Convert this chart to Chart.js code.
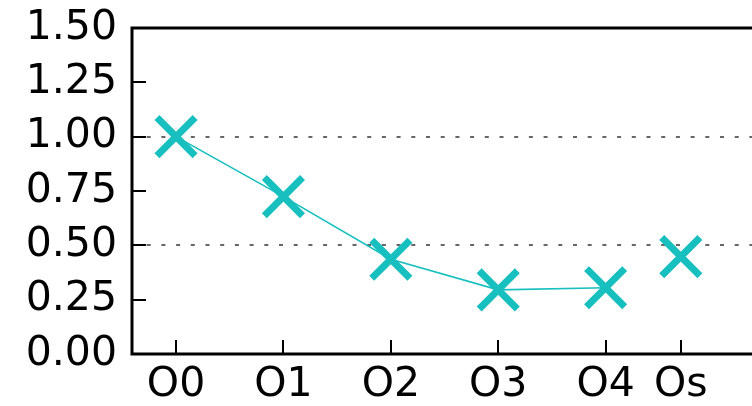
<!DOCTYPE html>
<html>
<head>
<meta charset="utf-8">
<script src="https://cdn.jsdelivr.net/npm/chart.js@4/dist/chart.umd.min.js"></script>
<style>
html,body{margin:0;padding:0;overflow:hidden;background:#fff;width:752px;height:406px;}
canvas{display:block;}
</style>
</head>
<body>
<canvas id="c" width="820" height="406"></canvas>
<script>
const categories = ['O0', 'O1', 'O2', 'O3', 'O4', 'Os'];
const positions = [0, 1, 2, 3, 4, 4.7];
const values = [1.0, 0.724, 0.436, 0.295, 0.305, 0.448];
const connectedCount = 5;
const yTicks = [0, 0.25, 0.5, 0.75, 1.0, 1.25, 1.5];

const COLOR = 'rgb(23,191,191)';
const FONT = 'DejaVu Sans';

const lineData = positions.slice(0, connectedCount).map((x, i) => ({x, y: values[i]}));
const soloData = positions.slice(connectedCount).map((x, i) => ({x, y: values[connectedCount + i]}));

const framePlugin = {
  id: 'frame',
  afterDatasetsDraw(chart) {
    const {ctx, chartArea: a, scales} = chart;
    ctx.save();
    ctx.strokeStyle = '#000';
    ctx.lineCap = 'butt';
    ctx.lineWidth = 2;
    const tl = 14;
    ctx.beginPath();
    yTicks.forEach(v => {
      const y = Math.round(scales.y.getPixelForValue(v));
      ctx.moveTo(a.left, y); ctx.lineTo(a.left + tl, y);
    });
    positions.forEach(v => {
      const x = Math.round(scales.x.getPixelForValue(v));
      ctx.moveTo(x, a.bottom); ctx.lineTo(x, a.bottom - tl);
    });
    ctx.stroke();
    ctx.lineWidth = 3;
    ctx.beginPath();
    ctx.moveTo(a.left, a.top); ctx.lineTo(a.right, a.top);
    ctx.lineTo(a.right, a.bottom); ctx.lineTo(a.left, a.bottom);
    ctx.closePath();
    ctx.stroke();
    ctx.restore();
  }
};

new Chart(document.getElementById('c'), {
  type: 'scatter',
  data: {
    datasets: [
      {
        data: lineData,
        showLine: true,
        borderColor: COLOR,
        borderWidth: 1.6,
        pointStyle: 'crossRot',
        pointRadius: 27,
        pointBorderWidth: 7,
        pointBorderColor: COLOR,
        pointBackgroundColor: COLOR,
        tension: 0
      },
      {
        data: soloData,
        showLine: false,
        borderColor: COLOR,
        pointStyle: 'crossRot',
        pointRadius: 27,
        pointBorderWidth: 7,
        pointBorderColor: COLOR,
        pointBackgroundColor: COLOR
      }
    ]
  },
  options: {
    responsive: false,
    animation: false,
    devicePixelRatio: 1,
    layout: {autoPadding: false, padding: {left: 0, top: 28, right: 10, bottom: 0}},
    plugins: {legend: {display: false}, tooltip: {enabled: false}},
    scales: {
      x: {
        type: 'linear',
        min: -0.41,
        max: 5.903,
        afterFit(s) { s.height = 52; s.paddingLeft = 0; s.paddingRight = 0; },
        afterBuildTicks(s) { s.ticks = positions.map(v => ({value: v})); },
        grid: {display: false, drawTicks: false},
        border: {display: false},
        ticks: {
          padding: 7,
          autoSkip: false,
          maxRotation: 0,
          color: '#000',
          font: {family: FONT, size: 41},
          callback(v) {
            const i = positions.indexOf(v);
            return i >= 0 ? categories[i] : '';
          }
        }
      },
      y: {
        min: 0,
        max: 1.5,
        afterFit(s) { s.width = 132; s.paddingTop = 0; s.paddingBottom = 0; },
        afterBuildTicks(s) { s.ticks = yTicks.map(v => ({value: v})); },
        grid: {
          drawTicks: false,
          lineWidth: 2,
          color(ctx) {
            const v = ctx.tick ? ctx.tick.value : 0;
            return (Math.abs(v - 0.5) < 1e-6 || Math.abs(v - 1.0) < 1e-6) ? '#666' : 'rgba(0,0,0,0)';
          }
        },
        border: {display: false, dash: [4, 10.7]},
        ticks: {
          padding: 15,
          color: '#000',
          font: {family: FONT, size: 41},
          callback(v) { return Number(v).toFixed(2); }
        }
      }
    }
  },
  plugins: [framePlugin]
});
</script>
</body>
</html>
